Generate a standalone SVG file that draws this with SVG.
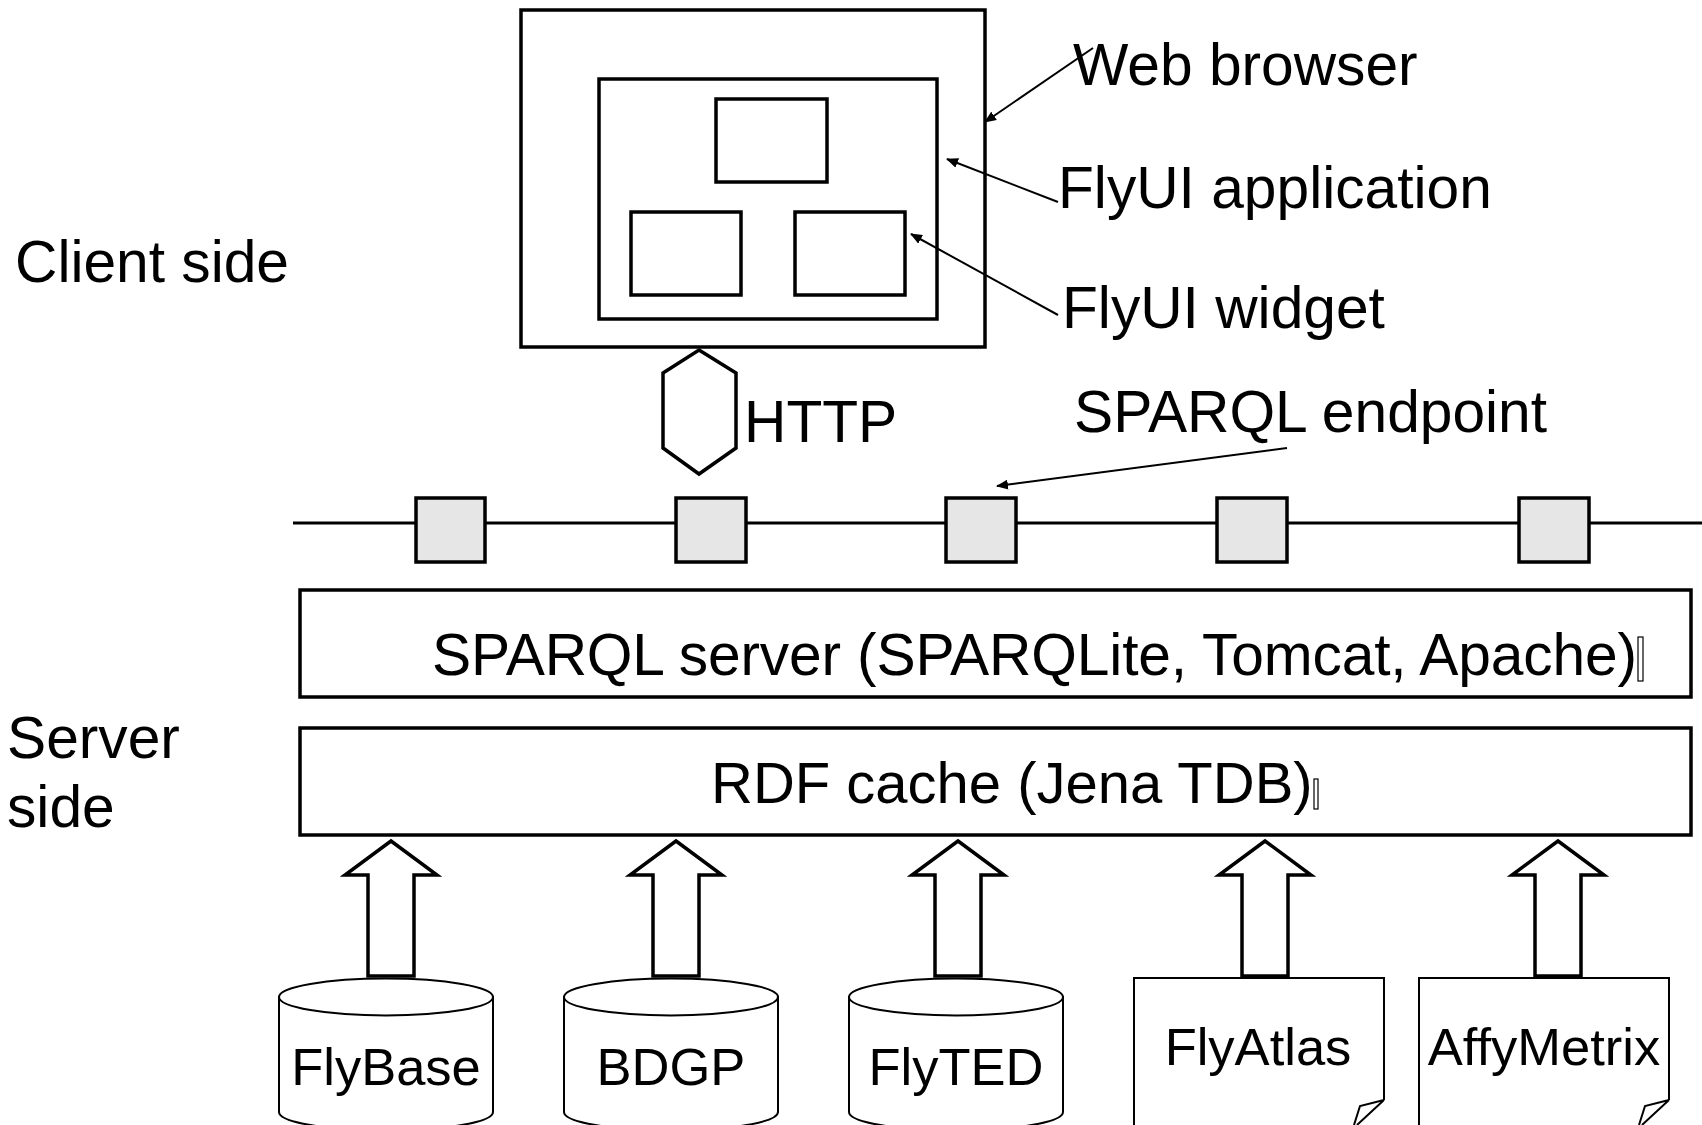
<svg xmlns="http://www.w3.org/2000/svg" width="1702" height="1125" viewBox="0 0 1702 1125">
<style>
text{font-family:"Liberation Sans",Arial,sans-serif;fill:#000}
.big{font-size:58.7px}
.db{font-size:52.5px;text-anchor:middle}
.box{fill:#fff;stroke:#000;stroke-width:3.5}
.ep{fill:#e6e6e6;stroke:#000;stroke-width:3.5}
.thin{fill:#fff;stroke:#000;stroke-width:2}
.blk{fill:#fff;stroke:#000;stroke-width:3.5;stroke-linejoin:miter}
.lead{stroke:#000;stroke-width:2;fill:none}
.tofu{fill:none;stroke:#000;stroke-width:1.2}
</style>
<defs>
<marker id="ah" viewBox="0 0 12 10" refX="11" refY="5" markerWidth="12" markerHeight="10" markerUnits="userSpaceOnUse" orient="auto">
<path d="M0,0 L12,5 L0,10 Z" fill="#000"/>
</marker>
<path id="barrow" d="M0,0 L46,34 L23,34 L23,135 L-23,135 L-23,34 L-46,34 Z"/>
<g id="cyl">
<path d="M-107,997 L-107,1112 A107,18.5 0 0 0 107,1112 L107,997 Z"/>
<ellipse cx="0" cy="997" rx="107" ry="18.5"/>
</g>
</defs>

<g id="client-label"><text class="big" x="15" y="282">Client side</text></g>
<g id="server-label"><text class="big" x="7" y="758">Server</text><text class="big" x="7" y="827">side</text></g>

<g id="web-browser">
<rect class="box" x="521" y="10" width="464" height="337"/>
<text class="big" x="1073" y="85">Web browser</text>
</g>
<g id="flyui-application">
<rect class="box" x="599" y="79" width="338" height="240"/>
<text class="big" x="1058" y="208">FlyUI application</text>
</g>
<g id="widget-top"><rect class="box" x="716" y="99" width="111" height="83"/></g>
<g id="widget-left"><rect class="box" x="631" y="212" width="110" height="83"/></g>
<g id="widget-right"><rect class="box" x="795" y="212" width="110" height="83"/></g>
<g id="flyui-widget-label"><text class="big" x="1062" y="328">FlyUI widget</text></g>

<g id="http">
<polygon class="box" points="699,350 736,373 736,448 699,474 663,448 663,373"/>
<text class="big" x="744" y="442">HTTP</text>
</g>

<g id="sparql-endpoint-label"><text class="big" x="1074" y="432">SPARQL endpoint</text></g>

<g id="endpoint-bus">
<line x1="293" y1="523" x2="1702" y2="523" stroke="#000" stroke-width="3"/>
</g>
<g id="ep1"><rect class="ep" x="416" y="498" width="69" height="64"/></g>
<g id="ep2"><rect class="ep" x="676" y="498" width="70" height="64"/></g>
<g id="ep3"><rect class="ep" x="946" y="498" width="70" height="64"/></g>
<g id="ep4"><rect class="ep" x="1217" y="498" width="70" height="64"/></g>
<g id="ep5"><rect class="ep" x="1519" y="498" width="70" height="64"/></g>

<g id="sparql-server">
<rect class="box" x="300" y="590" width="1391" height="107"/>
<text class="big" x="432" y="675" textLength="1205" lengthAdjust="spacing">SPARQL server (SPARQLite, Tomcat, Apache)</text>
<rect class="tofu" x="1638" y="637" width="5" height="44"/>
</g>

<g id="rdf-cache">
<rect class="box" x="300" y="728" width="1391" height="107"/>
<text class="big" x="711" y="803" style="font-size:58px">RDF cache (Jena TDB)</text>
<rect class="tofu" x="1314" y="779" width="4" height="30"/>
</g>

<g id="flybase">
<use href="#cyl" x="386" class="thin"/>
<text class="db" x="386" y="1085">FlyBase</text>
</g>
<g id="bdgp">
<use href="#cyl" x="671" class="thin"/>
<text class="db" x="671" y="1085">BDGP</text>
</g>
<g id="flyted">
<use href="#cyl" x="956" class="thin"/>
<text class="db" x="956" y="1085">FlyTED</text>
</g>
<g id="flyatlas">
<path class="thin" d="M1134,1125 L1134,978 L1384,978 L1384,1100"/>
<path class="lead" d="M1384,1100 L1360,1106 L1354,1125 M1384,1100 L1357,1125"/>
<text class="db" x="1258" y="1065">FlyAtlas</text>
</g>
<g id="affymetrix">
<path class="thin" d="M1419,1125 L1419,978 L1669,978 L1669,1100"/>
<path class="lead" d="M1669,1100 L1645,1106 L1639,1125 M1669,1100 L1642,1125"/>
<text class="db" x="1544" y="1065">AffyMetrix</text>
</g>

<g id="connectors">
<line class="lead" x1="1093" y1="48" x2="985" y2="122" marker-end="url(#ah)"/>
<line class="lead" x1="1058" y1="202" x2="947" y2="159" marker-end="url(#ah)"/>
<line class="lead" x1="1058" y1="315" x2="911" y2="234" marker-end="url(#ah)"/>
<line class="lead" x1="1287" y1="448" x2="997" y2="486" marker-end="url(#ah)"/>
<use href="#barrow" x="391" y="841" class="blk"/>
<use href="#barrow" x="676" y="841" class="blk"/>
<use href="#barrow" x="958" y="841" class="blk"/>
<use href="#barrow" x="1265" y="841" class="blk"/>
<use href="#barrow" x="1558" y="841" class="blk"/>
</g>
</svg>
